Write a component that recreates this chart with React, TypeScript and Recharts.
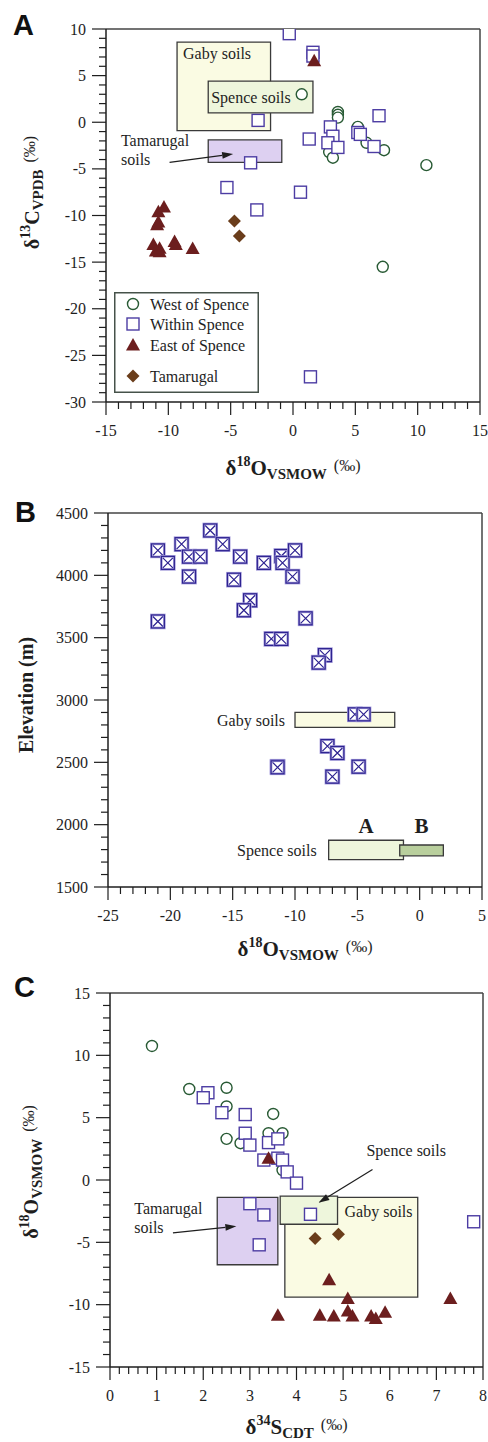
import React from "react";
import {
  Legend,
  ReferenceArea,
  ReferenceDot,
  ReferenceLine,
  Scatter,
  ScatterChart,
  XAxis,
  YAxis,
} from "recharts";

type Pt = { x: number; y: number };
type Box = { name: string; x1: number; x2: number; y1: number; y2: number };

// ---- Panel A: d18O (x) vs d13C (y)
const westA: Pt[] = [
  { x: 0.7, y: 3.0 }, { x: 3.6, y: 1.1 }, { x: 3.6, y: 0.8 }, { x: 3.6, y: 0.5 },
  { x: 5.2, y: -0.5 }, { x: 5.9, y: -2.2 }, { x: 7.3, y: -3.0 }, { x: 2.9, y: -3.2 },
  { x: 3.2, y: -3.8 }, { x: 10.7, y: -4.6 }, { x: 7.2, y: -15.5 },
];
const withinA: Pt[] = [
  { x: -0.3, y: 9.5 }, { x: 1.6, y: 7.5 }, { x: 1.6, y: 7.1 }, { x: -2.8, y: 0.2 },
  { x: 1.3, y: -1.8 }, { x: 3.0, y: -0.5 }, { x: 3.2, y: -1.5 }, { x: 2.8, y: -2.2 },
  { x: 3.6, y: -2.7 }, { x: 6.9, y: 0.7 }, { x: 5.2, y: -1.1 }, { x: 5.4, y: -1.3 },
  { x: 6.5, y: -2.6 }, { x: -3.4, y: -4.35 }, { x: -5.3, y: -7.0 }, { x: 0.6, y: -7.5 },
  { x: -2.9, y: -9.4 }, { x: 1.4, y: -27.3 },
];
const eastA: Pt[] = [
  { x: 1.7, y: 6.6 }, { x: -10.8, y: -9.6 }, { x: -10.35, y: -9.1 }, { x: -10.8, y: -10.7 },
  { x: -10.9, y: -11.0 }, { x: -11.2, y: -13.1 }, { x: -10.7, y: -13.5 }, { x: -10.7, y: -13.9 },
  { x: -11.0, y: -13.8 }, { x: -9.5, y: -12.8 }, { x: -9.4, y: -13.1 }, { x: -8.05, y: -13.55 },
];
const tamA: Pt[] = [{ x: -4.7, y: -10.6 }, { x: -4.3, y: -12.2 }];
const boxesA: Box[] = [
  { name: "Gaby soils", x1: -9.3, x2: -1.8, y1: -0.9, y2: 8.6 },
  { name: "Spence soils", x1: -6.8, x2: 1.6, y1: 1.0, y2: 4.4 },
  { name: "Tamarugal soils", x1: -6.8, x2: -0.9, y1: -4.3, y2: -1.9 },
];

// ---- Panel B: d18O (x) vs elevation (y)
const elevB: Pt[] = [
  { x: -21.0, y: 4200 }, { x: -20.2, y: 4100 }, { x: -19.1, y: 4250 }, { x: -18.5, y: 4150 },
  { x: -17.6, y: 4150 }, { x: -18.5, y: 3990 }, { x: -16.8, y: 4360 }, { x: -15.8, y: 4250 },
  { x: -14.4, y: 4150 }, { x: -14.9, y: 3965 }, { x: -13.6, y: 3800 }, { x: -14.1, y: 3720 },
  { x: -12.5, y: 4100 }, { x: -11.1, y: 4155 }, { x: -11.0, y: 4100 }, { x: -10.0, y: 4200 },
  { x: -10.2, y: 3990 }, { x: -21.0, y: 3630 }, { x: -9.15, y: 3655 }, { x: -11.9, y: 3490 },
  { x: -11.1, y: 3490 }, { x: -7.6, y: 3360 }, { x: -8.1, y: 3300 }, { x: -5.2, y: 2885 },
  { x: -4.5, y: 2885 }, { x: -7.4, y: 2630 }, { x: -6.6, y: 2575 }, { x: -11.4, y: 2465 },
  { x: -11.4, y: 2460 }, { x: -4.9, y: 2465 }, { x: -7.0, y: 2385 },
];
const boxesB: Box[] = [
  { name: "Gaby soils", x1: -10, x2: -2.0, y1: 2780, y2: 2900 },
  { name: "Spence A", x1: -7.3, x2: -1.3, y1: 1720, y2: 1875 },
  { name: "Spence B", x1: -1.6, x2: 1.9, y1: 1750, y2: 1837 },
];

// ---- Panel C: d34S (x) vs d18O (y)
const westC: Pt[] = [
  { x: 0.9, y: 10.75 }, { x: 1.7, y: 7.3 }, { x: 2.5, y: 7.4 }, { x: 2.5, y: 5.9 },
  { x: 3.5, y: 5.3 }, { x: 2.5, y: 3.3 }, { x: 2.8, y: 2.95 }, { x: 3.4, y: 3.75 },
  { x: 3.7, y: 3.75 }, { x: 3.7, y: 0.8 },
];
const withinC: Pt[] = [
  { x: 2.1, y: 7.0 }, { x: 2.0, y: 6.6 }, { x: 2.4, y: 5.4 }, { x: 2.9, y: 5.25 },
  { x: 2.9, y: 3.75 }, { x: 3.0, y: 2.8 }, { x: 3.4, y: 3.0 }, { x: 3.6, y: 3.3 },
  { x: 3.3, y: 1.6 }, { x: 3.6, y: 1.75 }, { x: 3.7, y: 1.6 }, { x: 3.8, y: 0.65 },
  { x: 4.0, y: -0.25 }, { x: 3.0, y: -1.9 }, { x: 3.3, y: -2.8 }, { x: 3.2, y: -5.2 },
  { x: 4.3, y: -2.75 }, { x: 7.8, y: -3.35 },
];
const eastC: Pt[] = [
  { x: 3.4, y: 1.75 }, { x: 4.7, y: -8.0 }, { x: 5.1, y: -9.5 }, { x: 7.3, y: -9.5 },
  { x: 3.6, y: -10.85 }, { x: 4.5, y: -10.85 }, { x: 4.8, y: -10.9 }, { x: 5.1, y: -10.5 },
  { x: 5.2, y: -10.9 }, { x: 5.6, y: -10.9 }, { x: 5.7, y: -11.1 }, { x: 5.9, y: -10.6 },
];
const tamC: Pt[] = [{ x: 4.4, y: -4.7 }, { x: 4.9, y: -4.35 }];
const boxesC: Box[] = [
  { name: "Tamarugal soils", x1: 2.3, x2: 3.6, y1: -6.8, y2: -1.4 },
  { name: "Gaby soils", x1: 3.75, x2: 6.6, y1: -9.4, y2: -1.4 },
  { name: "Spence soils", x1: 3.65, x2: 4.88, y1: -3.55, y2: -1.3 },
];

const legendNames = ["West of Spence", "Within Spence", "East of Spence", "Tamarugal"];

// ---- styles
const SERIF = "'Liberation Serif', 'Times New Roman', serif";
const SANS = "'Liberation Sans', Arial, sans-serif";
const INK = "#1e1e1e";
const FRAME = "#444";
const BOX = "#3a3a3a";
const C_WEST = "#285a34";
const C_WITHIN = "#4c3ca3";
const C_WITHIN_B = "#2d2290";
const C_EAST = "#6c1e1e";
const C_TAM = "#6a3d1b";
const FILLS: Record<string, string> = {
  "Gaby soils": "#fafbe3",
  "Spence soils": "#eef6dc",
  "Spence A": "#eef6dc",
  "Spence B": "#b9cf9d",
  "Tamarugal soils": "#ddd0f1",
};

function range(a: number, b: number, step: number): number[] {
  const out: number[] = [];
  const n = Math.round((b - a) / step);
  for (let i = 0; i <= n; i++) out.push(+(a + i * step).toFixed(4));
  return out;
}

function isMajor(v: number, every: number) {
  const r = v / every;
  return Math.abs(r - Math.round(r)) < 1e-6;
}

const leftTick = (every: number) => (props: any) => {
  const { x, y, payload } = props;
  const v = payload.value;
  const major = isMajor(v, every);
  return (
    <g>
      <line x1={x - (major ? 14 : 7)} x2={x} y1={y} y2={y} stroke={INK} strokeWidth={1.2} />
      {major && (
        <text x={x - 20} y={y} dy="0.35em" textAnchor="end" fontFamily={SERIF} fontSize={16} fill={INK}>
          {v}
        </text>
      )}
    </g>
  );
};

const bottomTick = (every: number) => (props: any) => {
  const { x, y, payload } = props;
  const v = payload.value;
  const major = isMajor(v, every);
  return (
    <g>
      <line x1={x} x2={x} y1={y} y2={y + (major ? 13 : 7)} stroke={INK} strokeWidth={1.2} />
      {major && (
        <text x={x} y={y + 28} dy="0.35em" textAnchor="middle" fontFamily={SERIF} fontSize={16} fill={INK}>
          {v}
        </text>
      )}
    </g>
  );
};

// ---- markers
const circleShape = (p: any) => (
  <circle cx={p.cx} cy={p.cy} r={5.5} fill="#fff" stroke={C_WEST} strokeWidth={1.4} />
);
const squareShape = (p: any) => (
  <rect x={p.cx - 6} y={p.cy - 6} width={12} height={12} fill="#fff" stroke={C_WITHIN} strokeWidth={1.4} />
);
const crossSquareShape = (p: any) => (
  <g>
    <rect x={p.cx - 6.5} y={p.cy - 6.5} width={13} height={13} fill="#fff" stroke="#a49cda" strokeWidth={2.6} />
    <rect x={p.cx - 6.5} y={p.cy - 6.5} width={13} height={13} fill="none" stroke={C_WITHIN_B} strokeWidth={1.2} />
    <path
      d={`M${p.cx - 5},${p.cy - 5}L${p.cx + 5},${p.cy + 5}M${p.cx + 5},${p.cy - 5}L${p.cx - 5},${p.cy + 5}`}
      stroke={C_WITHIN_B}
      strokeWidth={1.2}
    />
  </g>
);
const triangleShape = (p: any) => (
  <polygon
    points={`${p.cx},${p.cy - 7} ${p.cx + 7},${p.cy + 5.5} ${p.cx - 7},${p.cy + 5.5}`}
    fill={C_EAST}
  />
);
const diamondShape = (p: any) => (
  <polygon
    points={`${p.cx},${p.cy - 6.5} ${p.cx + 6.5},${p.cy} ${p.cx},${p.cy + 6.5} ${p.cx - 6.5},${p.cy}`}
    fill={C_TAM}
  />
);

// ---- annotations
const Arrow = (props: any) => {
  const { x1, y1, x2, y2 } = props;
  const ang = Math.atan2(y2 - y1, x2 - x1);
  const L = 11;
  const W = 3.4;
  const bx = x2 - L * Math.cos(ang);
  const by = y2 - L * Math.sin(ang);
  const px = -Math.sin(ang) * W;
  const py = Math.cos(ang) * W;
  return (
    <g>
      <line x1={x1} y1={y1} x2={bx} y2={by} stroke={INK} strokeWidth={1.2} />
      <polygon points={`${x2},${y2} ${bx + px},${by + py} ${bx - px},${by - py}`} fill={INK} />
    </g>
  );
};

const annot = (lines: string[], anchor: "start" | "middle" | "end" = "start") => (props: any) => {
  const vb = props.viewBox || {};
  const x = (vb.x ?? 0) + (vb.width ?? 0) / 2;
  const y = (vb.y ?? 0) + (vb.height ?? 0) / 2;
  return (
    <text x={x} y={y} dy="0.35em" textAnchor={anchor} fontFamily={SERIF} fontSize={16} fill={INK}>
      {lines.map((l, i) => (
        <tspan key={i} x={x} dy={i === 0 ? 0 : 19}>
          {l}
        </tspan>
      ))}
    </text>
  );
};

function annotBold(t: string) {
  return (props: any) => {
    const vb = props.viewBox || {};
    const x = (vb.x ?? 0) + (vb.width ?? 0) / 2;
    const y = (vb.y ?? 0) + (vb.height ?? 0) / 2;
    return (
      <text x={x} y={y} dy="0.35em" textAnchor="middle" fontFamily={SERIF} fontWeight="bold" fontSize={21} fill={INK}>
        {t}
      </text>
    );
  };
}

const areaLabel = (value: string, position: string, offset: number) => ({
  value,
  position,
  offset,
  fill: INK,
  fontFamily: SERIF,
  fontSize: 16,
});

// ---- axis titles
const deltaTitle = (iso: string, el: string, sub: string, x: number, y: number, rotate: boolean, main = 21) => (
  <text
    x={x}
    y={y}
    transform={rotate ? `rotate(-90 ${x} ${y})` : undefined}
    textAnchor="middle"
    fontFamily={SERIF}
    fill={INK}
  >
    <tspan fontWeight="bold" fontSize={main}>δ</tspan>
    <tspan fontWeight="bold" fontSize={14} dy={-9}>{iso}</tspan>
    <tspan fontWeight="bold" fontSize={main} dy={9}>{el}</tspan>
    <tspan fontWeight="bold" fontSize={15} dy={4}>{sub}</tspan>
    <tspan fontSize={16} dy={-8} dx={7}>(‰)</tspan>
  </text>
);

const panelLetter = (ch: string, x: number, y: number) => (
  <text x={x} y={y} fontFamily={SANS} fontWeight="bold" fontSize={29} fill="#111">
    {ch}
  </text>
);

const yTitleA = (props: any) => {
  const vb = props.viewBox;
  return (
    <g>
      {panelLetter("A", 13, vb.y + 6)}
      {deltaTitle("13", "C", "VPDB", 39, vb.y + vb.height / 2 - 23, true, 20)}
    </g>
  );
};
const xTitleA = (props: any) => {
  const vb = props.viewBox;
  return deltaTitle("18", "O", "VSMOW", vb.x + vb.width / 2, vb.y + 73, false);
};

const yTitleB = (props: any) => {
  const vb = props.viewBox;
  const x = 33;
  const y = vb.y + vb.height / 2 - 5;
  return (
    <g>
      {panelLetter("B", 15, vb.y + 9)}
      <text
        x={x}
        y={y}
        transform={`rotate(-90 ${x} ${y})`}
        textAnchor="middle"
        fontFamily={SERIF}
        fontWeight="bold"
        fontSize={20}
        fill={INK}
      >
        Elevation (m)
      </text>
    </g>
  );
};
const xTitleB = (props: any) => {
  const vb = props.viewBox;
  return deltaTitle("18", "O", "VSMOW", vb.x + vb.width / 2 + 10, vb.y + 69, false);
};

const yTitleC = (props: any) => {
  const vb = props.viewBox;
  return (
    <g>
      {panelLetter("C", 14, vb.y + 4)}
      {deltaTitle("18", "O", "VSMOW", 38, vb.y + vb.height / 2 - 8, true, 20)}
    </g>
  );
};
const xTitleC = (props: any) => {
  const vb = props.viewBox;
  return deltaTitle("34", "S", "CDT", vb.x + vb.width / 2, vb.y + 67, false);
};

// ---- legend (panel A)
const legendMarker = (i: number, cx: number, cy: number) => {
  const p = { cx, cy };
  if (i === 0) return circleShape(p);
  if (i === 1) return squareShape(p);
  if (i === 2) return triangleShape(p);
  return diamondShape(p);
};

const LegendBox = () => {
  const rows = [12, 32, 53, 84];
  return (
    <svg width={145} height={101} style={{ display: "block" }}>
      <rect x={0.75} y={0.75} width={143.5} height={99.5} fill="#fff" stroke="#46524a" strokeWidth={1.5} />
      {legendNames.map((n, i) => (
        <g key={n}>
          {legendMarker(i, 19, rows[i])}
          <text x={36} y={rows[i]} dy="0.35em" fontFamily={SERIF} fontSize={16} fill={INK}>
            {n}
          </text>
        </g>
      ))}
    </svg>
  );
};

const axisLine = { stroke: INK, strokeWidth: 1.5 };

function PanelA() {
  return (
    <ScatterChart width={488} height={492} margin={{ top: 29, right: 8, bottom: 0, left: 0 }}>
      <XAxis
        type="number"
        dataKey="x"
        domain={[-15, 15]}
        ticks={range(-15, 15, 1)}
        interval={0}
        tick={bottomTick(5)}
        tickLine={false}
        tickSize={0}
        tickMargin={0}
        axisLine={axisLine}
        height={90}
        label={xTitleA}
        allowDataOverflow
      />
      <YAxis
        type="number"
        dataKey="y"
        domain={[-30, 10]}
        ticks={range(-30, 10, 1)}
        interval={0}
        tick={leftTick(5)}
        tickLine={false}
        tickSize={0}
        tickMargin={0}
        axisLine={axisLine}
        width={106}
        label={yTitleA}
        allowDataOverflow
      />
      <ReferenceLine y={10} stroke={FRAME} strokeWidth={1.5} />
      <ReferenceLine x={15} stroke={FRAME} strokeWidth={1.5} />
      <ReferenceArea
        x1={boxesA[0].x1} x2={boxesA[0].x2} y1={boxesA[0].y1} y2={boxesA[0].y2}
        fill={FILLS[boxesA[0].name]} fillOpacity={1} stroke={BOX} strokeWidth={1.3}
        label={areaLabel(boxesA[0].name, "insideTopLeft", 6)}
      />
      <ReferenceArea
        x1={boxesA[1].x1} x2={boxesA[1].x2} y1={boxesA[1].y1} y2={boxesA[1].y2}
        fill={FILLS[boxesA[1].name]} fillOpacity={1} stroke={BOX} strokeWidth={1.3}
        label={areaLabel(boxesA[1].name, "insideLeft", 3)}
      />
      <ReferenceArea
        x1={boxesA[2].x1} x2={boxesA[2].x2} y1={boxesA[2].y1} y2={boxesA[2].y2}
        fill={FILLS[boxesA[2].name]} fillOpacity={1} stroke={BOX} strokeWidth={1.3}
      />
      <ReferenceDot x={-13.8} y={-2.6} r={0} label={annot(["Tamarugal", "soils"])} />
      <ReferenceLine segment={[{ x: -9.9, y: -4.3 }, { x: -4.8, y: -3.4 }]} shape={Arrow} />
      <Scatter name="West of Spence" data={westA} shape={circleShape} isAnimationActive={false} />
      <Scatter name="Within Spence" data={withinA} shape={squareShape} isAnimationActive={false} />
      <Scatter name="East of Spence" data={eastA} shape={triangleShape} isAnimationActive={false} />
      <Scatter name="Tamarugal" data={tamA} shape={diamondShape} isAnimationActive={false} />
      <Legend
        layout="vertical"
        align="center"
        verticalAlign="middle"
        content={() => <LegendBox />}
        wrapperStyle={{ position: "absolute", left: 114, top: 292, width: 145, height: 101 }}
      />
    </ScatterChart>
  );
}

function PanelB() {
  return (
    <ScatterChart width={488} height={492} margin={{ top: 33, right: 6, bottom: 0, left: 0 }}>
      <XAxis
        type="number"
        dataKey="x"
        domain={[-25, 5]}
        ticks={range(-25, 5, 1)}
        interval={0}
        tick={bottomTick(5)}
        tickLine={false}
        tickSize={0}
        tickMargin={0}
        axisLine={axisLine}
        height={85}
        label={xTitleB}
        allowDataOverflow
      />
      <YAxis
        type="number"
        dataKey="y"
        domain={[1500, 4500]}
        ticks={range(1500, 4500, 100)}
        interval={0}
        tick={leftTick(500)}
        tickLine={false}
        tickSize={0}
        tickMargin={0}
        axisLine={axisLine}
        width={108}
        label={yTitleB}
        allowDataOverflow
      />
      <ReferenceLine y={4500} stroke={FRAME} strokeWidth={1.5} />
      <ReferenceLine x={5} stroke={FRAME} strokeWidth={1.5} />
      <ReferenceArea
        x1={boxesB[0].x1} x2={boxesB[0].x2} y1={boxesB[0].y1} y2={boxesB[0].y2}
        fill={FILLS[boxesB[0].name]} fillOpacity={1} stroke={BOX} strokeWidth={1.3}
        label={areaLabel("Gaby soils", "left", 10)}
      />
      <ReferenceArea
        x1={boxesB[1].x1} x2={boxesB[1].x2} y1={boxesB[1].y1} y2={boxesB[1].y2}
        fill={FILLS[boxesB[1].name]} fillOpacity={1} stroke={BOX} strokeWidth={1.3}
        label={areaLabel("Spence soils", "left", 12)}
      />
      <ReferenceArea
        x1={boxesB[2].x1} x2={boxesB[2].x2} y1={boxesB[2].y1} y2={boxesB[2].y2}
        fill={FILLS[boxesB[2].name]} fillOpacity={1} stroke={BOX} strokeWidth={1.3}
      />
      <ReferenceDot x={-4.3} y={1995} r={0} label={annotBold("A")} />
      <ReferenceDot x={0.15} y={1995} r={0} label={annotBold("B")} />
      <Scatter name="Within Spence" data={elevB} shape={crossSquareShape} isAnimationActive={false} />
    </ScatterChart>
  );
}

function PanelC() {
  return (
    <ScatterChart width={488} height={482} margin={{ top: 33, right: 5, bottom: 0, left: 0 }}>
      <XAxis
        type="number"
        dataKey="x"
        domain={[0, 8]}
        ticks={range(0, 8, 0.2)}
        interval={0}
        tick={bottomTick(1)}
        tickLine={false}
        tickSize={0}
        tickMargin={0}
        axisLine={axisLine}
        height={75}
        label={xTitleC}
        allowDataOverflow
      />
      <YAxis
        type="number"
        dataKey="y"
        domain={[-15, 15]}
        ticks={range(-15, 15, 1)}
        interval={0}
        tick={leftTick(5)}
        tickLine={false}
        tickSize={0}
        tickMargin={0}
        axisLine={axisLine}
        width={110}
        label={yTitleC}
        allowDataOverflow
      />
      <ReferenceLine y={15} stroke={FRAME} strokeWidth={1.5} />
      <ReferenceLine x={8} stroke={FRAME} strokeWidth={1.5} />
      {boxesC.map((b) => (
        <ReferenceArea
          key={b.name}
          x1={b.x1} x2={b.x2} y1={b.y1} y2={b.y2}
          fill={FILLS[b.name]} fillOpacity={1} stroke={BOX} strokeWidth={1.3}
        />
      ))}
      <ReferenceDot x={5.03} y={-2.95} r={0} label={annot(["Gaby soils"])} />
      <ReferenceDot x={5.5} y={1.9} r={0} label={annot(["Spence soils"])} />
      <ReferenceLine segment={[{ x: 5.63, y: 0.85 }, { x: 4.47, y: -1.83 }]} shape={Arrow} />
      <ReferenceDot x={0.52} y={-2.76} r={0} label={annot(["Tamarugal", "soils"])} />
      <ReferenceLine segment={[{ x: 1.35, y: -4.24 }, { x: 2.71, y: -3.7 }]} shape={Arrow} />
      <Scatter name="West of Spence" data={westC} shape={circleShape} isAnimationActive={false} />
      <Scatter name="Within Spence" data={withinC} shape={squareShape} isAnimationActive={false} />
      <Scatter name="East of Spence" data={eastC} shape={triangleShape} isAnimationActive={false} />
      <Scatter name="Tamarugal" data={tamC} shape={diamondShape} isAnimationActive={false} />
    </ScatterChart>
  );
}

export default function App() {
  return (
    <div style={{ position: "absolute", left: 0, top: 0, width: 488, height: 1442, background: "#fff" }}>
      <div style={{ position: "absolute", left: 0, top: 0 }}>
        <PanelA />
      </div>
      <div style={{ position: "absolute", left: 0, top: 480 }}>
        <PanelB />
      </div>
      <div style={{ position: "absolute", left: 0, top: 960 }}>
        <PanelC />
      </div>
    </div>
  );
}
